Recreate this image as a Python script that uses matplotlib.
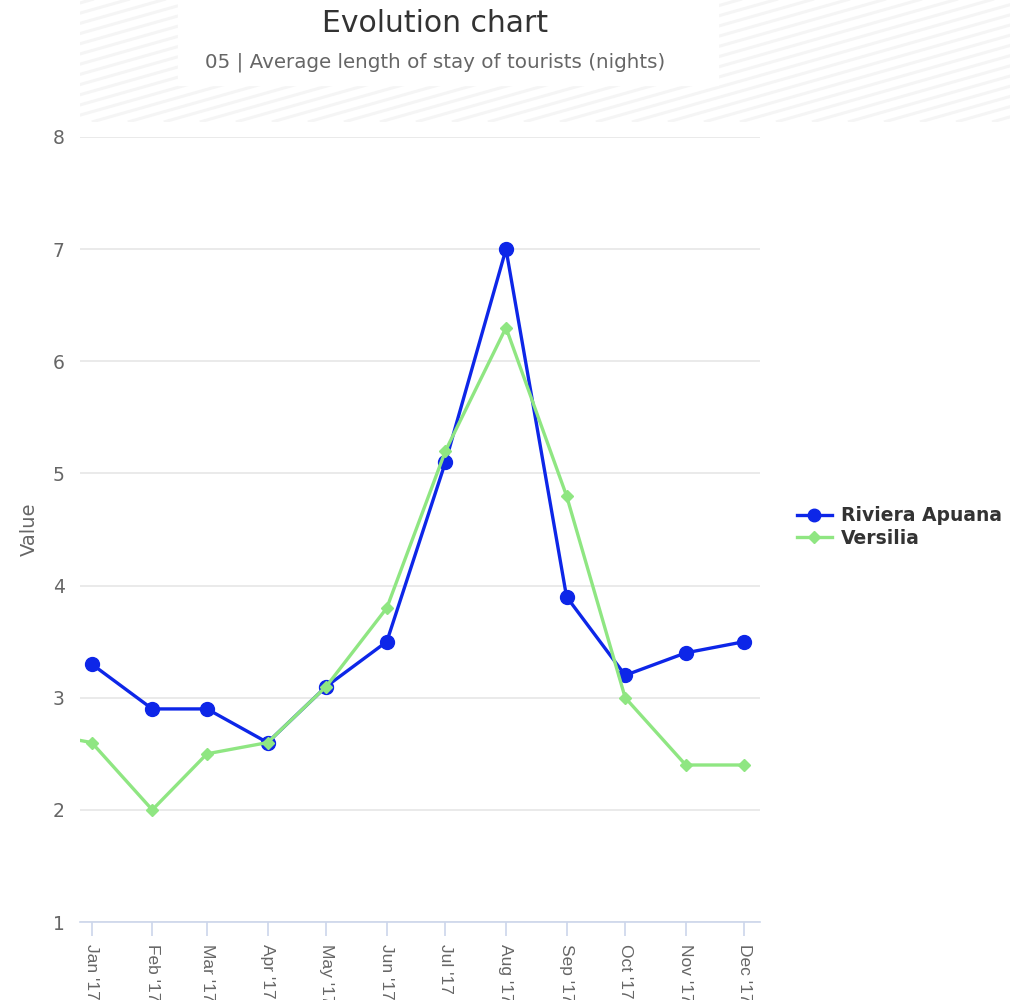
import numpy as np
import matplotlib.pyplot as plt
import matplotlib.dates as mdates
from matplotlib.lines import Line2D
from matplotlib.patches import Rectangle

plt.rcParams['font.family'] = ['DejaVu Sans']

# --- data (monthly averages, nights) ---
months = np.array(['2017-01-01', '2017-02-01', '2017-03-01', '2017-04-01',
                   '2017-05-01', '2017-06-01', '2017-07-01', '2017-08-01',
                   '2017-09-01', '2017-10-01', '2017-11-01', '2017-12-01'],
                  dtype='datetime64[D]')
riviera_apuana = [3.3, 2.9, 2.9, 2.6, 3.1, 3.5, 5.1, 7.0, 3.9, 3.2, 3.4, 3.5]

# Versilia has one earlier point (Dec '16) that sits just outside the view
versilia_months = np.concatenate([np.array(['2016-12-01'], dtype='datetime64[D]'), months])
versilia = [2.7, 2.6, 2.0, 2.5, 2.6, 3.1, 3.8, 5.2, 6.3, 4.8, 3.0, 2.4, 2.4]

series_names = ['Riviera Apuana', 'Versilia']
title = 'Evolution chart'
subtitle = '05 | Average length of stay of tourists (nights)'

blue = '#0d26e8'
green = '#8fe682'
grey_text = '#666666'

fig = plt.figure(figsize=(10.1, 10.0), dpi=100)

# striped header background
bg = fig.add_axes([0.079, 0.878, 0.921, 0.122])
bg.set_xlim(0, 930)
bg.set_ylim(0, 122)
bg.axis('off')
for x0 in np.arange(-600, 960, 36):
    bg.plot([x0, x0 + 600], [0, 170], color='#f5f5f5', lw=2.2, solid_capstyle='butt')
bg.add_patch(Rectangle((98, 37), 540, 90, color='white', zorder=3))

ax = fig.add_axes([0.0792, 0.078, 0.6733, 0.785])

ax.plot(months, riviera_apuana, color=blue, lw=2.4, marker='o', ms=10, zorder=3)
ax.plot(versilia_months, versilia, color=green, lw=2.4, marker='D', ms=6.5, zorder=4)

ax.set_xlim(np.datetime64('2016-12-26'), np.datetime64('2017-12-09'))
ax.set_ylim(1, 8)
ax.set_yticks(range(1, 9))
ax.yaxis.grid(True, color='#e6e6e6', lw=1.2)
ax.set_axisbelow(True)

ax.xaxis.set_major_locator(mdates.MonthLocator())
ax.xaxis.set_major_formatter(mdates.DateFormatter("%b '%y"))
ax.tick_params(axis='x', rotation=270, length=10, width=1.2, color='#ccd6eb',
               labelsize=12.5, labelcolor=grey_text, pad=6)
ax.tick_params(axis='y', length=0, labelsize=13.5, labelcolor=grey_text, pad=11)
for lbl in ax.get_xticklabels():
    lbl.set_va('top')
    lbl.set_ha('center')
    lbl.set_family('Liberation Sans')

for side in ['top', 'right', 'left']:
    ax.spines[side].set_visible(False)
ax.spines['bottom'].set_color('#ccd6eb')
ax.spines['bottom'].set_linewidth(1.2)

ax.set_ylabel('Value', fontsize=14, color=grey_text, labelpad=10)

fig.text(0.431, 0.977, title, ha='center', va='center', fontsize=21.5, color='#333333')
fig.text(0.431, 0.938, subtitle, ha='center', va='center', fontsize=14.3, color=grey_text)

handles = [
    Line2D([0], [0], color=blue, lw=2.4, marker='o', ms=9),
    Line2D([0], [0], color=green, lw=2.4, marker='D', ms=6),
]
leg = fig.legend(handles, series_names, loc='center left', bbox_to_anchor=(0.772, 0.473),
                 frameon=False, handlelength=1.9, handletextpad=0.45, labelspacing=0.2,
                 prop={'size': 13.5, 'weight': 'bold'})
for t in leg.get_texts():
    t.set_color('#333333')

fig.savefig('out.png', dpi=100)
